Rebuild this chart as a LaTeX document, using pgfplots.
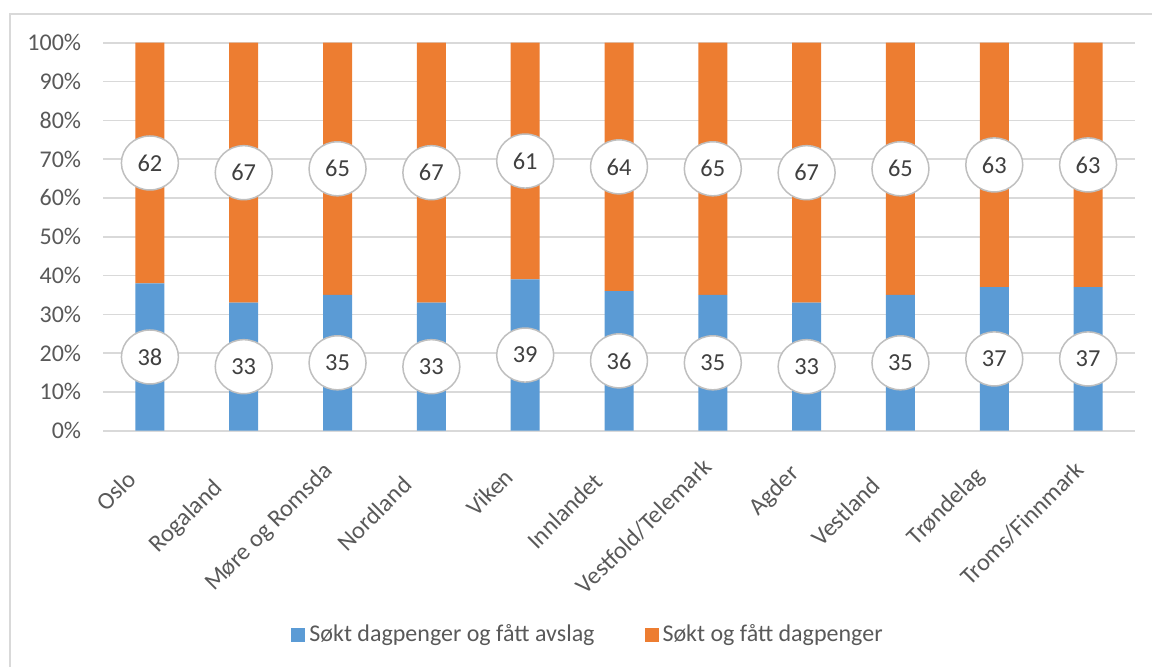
\documentclass[border=0pt]{standalone}
\usepackage{fontspec}
\setmainfont{Carlito}
\usepackage{pgfplots}
\pgfplotsset{compat=1.18}
\usepackage{pgfplotstable}
\usetikzlibrary{shapes.geometric}

\definecolor{cblue}{HTML}{5B9BD5}
\definecolor{corange}{HTML}{ED7D31}
\definecolor{cgrid}{HTML}{D9D9D9}
\definecolor{ctext}{HTML}{595959}
\definecolor{clabel}{HTML}{404040}
\definecolor{cring}{HTML}{BFBFBF}

\newcommand\ticfont{\fontsize{12pt}{14pt}\selectfont}
\newcommand\catfont{\fontsize{12.2pt}{14pt}\selectfont}
\newcommand\lblfont{\fontsize{12.2pt}{14pt}\selectfont}

% andel i prosent per fylke
\pgfplotstableread{
x avslag dagpenger
0 38 62
1 33 67
2 35 65
3 33 67
4 39 61
5 36 64
6 35 65
7 33 67
8 35 65
9 37 63
10 37 63
}\fylker

\begin{document}
\begin{tikzpicture}
\useasboundingbox (0,0) rectangle (576pt,333pt);
\draw[cgrid, line width=1pt] (5pt,-5pt) -- (5pt,326pt) -- (582pt,326pt);
\begin{axis}[
  at={(51.5pt,117.65pt)}, anchor=south west,
  scale only axis, width=516pt, height=194pt,
  ybar stacked, bar width=14.5pt,
  xmin=-0.5, xmax=10.5, ymin=0, ymax=100,
  axis lines*=left,
  y axis line style={draw=none},
  x axis line style={cgrid, line width=0.8pt},
  tick style={draw=none},
  ymajorgrids, grid style={cgrid, line width=0.8pt},
  ytick={0,10,...,100},
  yticklabels={0\%,10\%,20\%,30\%,40\%,50\%,60\%,70\%,80\%,90\%,100\%},
  yticklabel style={font=\ticfont, text=ctext, xshift=-7.4pt},
  xtick=data,
  xticklabels={Oslo\hspace*{16pt}, Rogaland\hspace*{21.5pt},
    Møre og Romsda\hspace*{10pt}, Nordland\hspace*{20pt},
    Viken\hspace*{14.5pt}, Innlandet\hspace*{17.5pt},
    Vestfold/Telemark\hspace*{7pt}, Agder\hspace*{11.5pt},
    Vestland\hspace*{20.5pt}, Trøndelag\hspace*{13pt},
    Troms/Finnmark\hspace*{9pt}},
  xticklabel style={font=\catfont, text=ctext, anchor=east, inner sep=0pt,
    text height=9pt, text depth=2.6pt, xshift=2.9pt, yshift=-11.5pt, rotate=45},
  /pgf/number format/assume math mode=true,
  % stacked bars put these in the middle of each segment
  nodes near coords,
  nodes near coords align={anchor=center},
  every node near coord/.append style={ellipse, draw=cring, line width=0.75pt,
    fill=white, minimum width=28.5pt, minimum height=27pt, inner sep=0pt,
    font=\lblfont, text=clabel},
  legend style={at={(0.471,-0.5265)}, anchor=center, draw=none, fill=none,
    legend columns=2, font=\ticfont, text=ctext,
    /tikz/every even column/.append style={column sep=23pt}},
  legend cell align=left,
  legend image code/.code={\fill[#1] (0pt,-3.5pt) rectangle (7pt,3.5pt);},
]
\addplot[fill=cblue, draw=none, point meta=\thisrow{avslag}]
  table[x=x, y=avslag] {\fylker};
\addlegendentry{Søkt dagpenger og fått avslag}
\addplot[fill=corange, draw=none, point meta=\thisrow{dagpenger}]
  table[x=x, y=dagpenger] {\fylker};
\addlegendentry{Søkt og fått dagpenger}
\end{axis}
\end{tikzpicture}
\end{document}
